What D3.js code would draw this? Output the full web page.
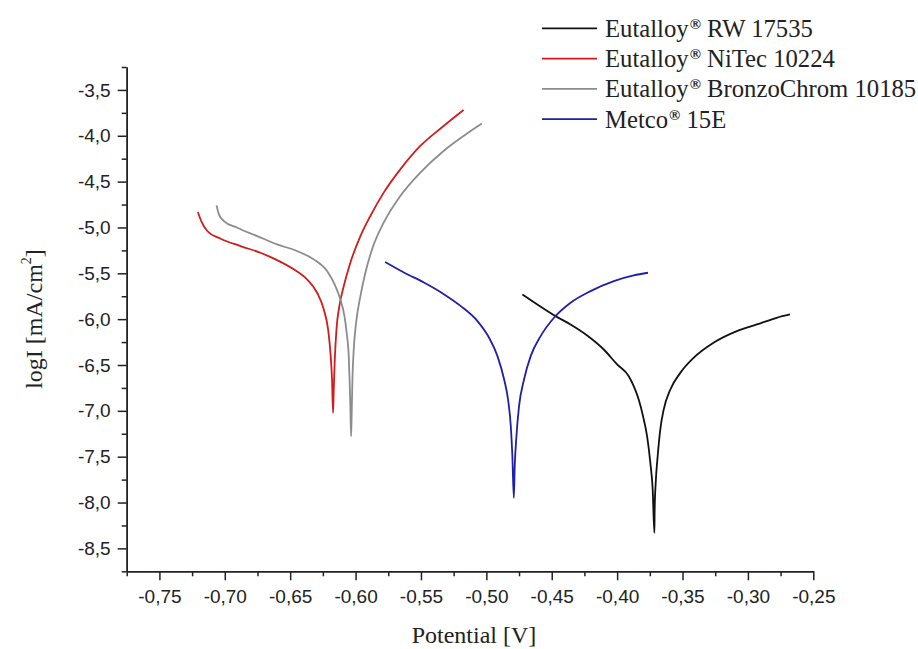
<!DOCTYPE html>
<html>
<head>
<meta charset="utf-8">
<script src="https://cdn.jsdelivr.net/npm/d3@7"></script>
<style>
	body { margin: 0; background: #fff; }
	svg { display: block; }
	.axis text { font-family: "Liberation Sans", Arial, sans-serif; font-size: 19px; fill: #222; }
	.axis path, .axis line { stroke: #222; stroke-width: 1.5; }
	.title { font-family: "Liberation Serif", "Times New Roman", serif; font-size: 24px; fill: #222; }
	.legend-text { font-family: "Liberation Serif", "Times New Roman", serif; font-size: 24.7px; fill: #222; }
</style>
</head>
<body>
<svg id="chart" width="918" height="649"></svg>
<script>
// tick values
let xMajor = [-0.75, -0.70, -0.65, -0.60, -0.55, -0.50, -0.45, -0.40, -0.35, -0.30, -0.25];
let xMinor = [-0.775, -0.725, -0.675, -0.625, -0.575, -0.525, -0.475, -0.425, -0.375, -0.325, -0.275];
let yMajor = [-3.5, -4.0, -4.5, -5.0, -5.5, -6.0, -6.5, -7.0, -7.5, -8.0, -8.5];
let yMinor = [-3.25, -3.75, -4.25, -4.75, -5.25, -5.75, -6.25, -6.75, -7.25, -7.75, -8.25, -8.75];

// [potential V, logI]
let rw17535 = [
	[-0.4724, -5.730], [-0.4610, -5.839], [-0.4470, -5.967], [-0.4356, -6.058], [-0.4229, -6.178],
	[-0.4102, -6.331], [-0.4000, -6.494], [-0.3911, -6.622], [-0.3873, -6.731], [-0.3835, -6.877],
	[-0.3802, -7.058], [-0.3771, -7.277], [-0.3746, -7.568], [-0.3728, -7.859], [-0.3715, -8.332],
	[-0.3713, -8.077], [-0.3705, -7.786], [-0.3690, -7.495], [-0.3670, -7.204], [-0.3644, -6.986],
	[-0.3593, -6.767], [-0.3517, -6.586], [-0.3415, -6.422], [-0.3263, -6.258], [-0.3085, -6.131],
	[-0.2932, -6.058], [-0.2780, -5.985], [-0.2678, -5.949]
];
let nitec10224 = [
	[-0.7206, -4.832], [-0.7180, -4.930], [-0.7134, -5.039], [-0.7032, -5.123], [-0.6880, -5.203],
	[-0.6727, -5.276], [-0.6600, -5.356], [-0.6472, -5.457], [-0.6371, -5.567], [-0.6294, -5.712],
	[-0.6243, -5.894], [-0.6210, -6.112], [-0.6192, -6.367], [-0.6180, -6.658], [-0.6172, -7.022],
	[-0.6167, -6.767], [-0.6159, -6.440], [-0.6146, -6.112], [-0.6124, -5.858], [-0.6090, -5.639],
	[-0.6040, -5.385], [-0.5963, -5.094], [-0.5887, -4.875], [-0.5785, -4.620], [-0.5658, -4.366],
	[-0.5505, -4.111], [-0.5327, -3.893], [-0.5174, -3.718]
];
let bronzo10185 = [
	[-0.7063, -4.759], [-0.7045, -4.857], [-0.7007, -4.930], [-0.6905, -5.003], [-0.6752, -5.094],
	[-0.6600, -5.185], [-0.6447, -5.257], [-0.6320, -5.348], [-0.6218, -5.476], [-0.6154, -5.640],
	[-0.6116, -5.785], [-0.6085, -5.967], [-0.6065, -6.185], [-0.6052, -6.404], [-0.6045, -6.695],
	[-0.6040, -6.949], [-0.6034, -7.277], [-0.6029, -6.986], [-0.6024, -6.658], [-0.6014, -6.331],
	[-0.5996, -6.040], [-0.5963, -5.749], [-0.5925, -5.494], [-0.5874, -5.239], [-0.5785, -4.948],
	[-0.5658, -4.657], [-0.5505, -4.402], [-0.5327, -4.166], [-0.5174, -4.002], [-0.5034, -3.867]
];
let metco15e = [
	[-0.5774, -5.377], [-0.5627, -5.494], [-0.5474, -5.603], [-0.5322, -5.730], [-0.5195, -5.858],
	[-0.5068, -6.021], [-0.4979, -6.203], [-0.4915, -6.403], [-0.4864, -6.658], [-0.4834, -6.877],
	[-0.4813, -7.168], [-0.4801, -7.495], [-0.4790, -7.950], [-0.4783, -7.604], [-0.4770, -7.277],
	[-0.4750, -6.949], [-0.4712, -6.658], [-0.4661, -6.403], [-0.4585, -6.185], [-0.4483, -5.985],
	[-0.4356, -5.821], [-0.4203, -5.694], [-0.4025, -5.585], [-0.3873, -5.523], [-0.3764, -5.494]
];

let names = ['RW 17535', 'NiTec 10224', 'BronzoChrom 10185', '15E'];
let brands = ['Eutalloy', 'Eutalloy', 'Eutalloy', 'Metco'];
let colors = ['#111111', '#d01c1c', '#8c8c8c', '#1f1fa8'];
let seriesData = [rw17535, nitec10224, bronzo10185, metco15e];

let svg = d3.select('#chart');

let xScale = d3.scaleLinear().domain([-0.775, -0.25]).range([126.7, 813.3]);
let yScale = d3.scaleLinear().domain([-8.75, -3.25]).range([571.3, 67]);

let locale = d3.formatLocale({decimal: ',', thousands: '.', grouping: [3], currency: ['', ''], minus: '-'});

// minor ticks
svg.append('g')
	.attr('class', 'axis')
	.attr('transform', 'translate(0,' + yScale.range()[0] + ')')
	.call(d3.axisBottom(xScale).tickValues(xMinor).tickSize(5).tickSizeOuter(0).tickFormat(''));
svg.append('g')
	.attr('class', 'axis')
	.attr('transform', 'translate(' + xScale.range()[0] + ',0)')
	.call(d3.axisLeft(yScale).tickValues(yMinor).tickSize(5).tickSizeOuter(0).tickFormat(''));

// major ticks + labels
svg.append('g')
	.attr('class', 'axis')
	.attr('transform', 'translate(0,' + yScale.range()[0] + ')')
	.call(d3.axisBottom(xScale).tickValues(xMajor).tickSize(9).tickSizeOuter(0).tickPadding(9).tickFormat(locale.format('.2f')));
svg.append('g')
	.attr('class', 'axis')
	.attr('transform', 'translate(' + xScale.range()[0] + ',0)')
	.call(d3.axisLeft(yScale).tickValues(yMajor).tickSize(9).tickSizeOuter(0).tickPadding(7).tickFormat(locale.format('.1f')));

// curves
let lineGen = d3.line()
	.x(d => xScale(d[0]))
	.y(d => yScale(d[1]))
	.curve(d3.curveMonotoneX);

svg.append('g')
	.selectAll('path')
	.data(seriesData)
	.enter()
	.append('path')
	.attr('d', lineGen)
	.attr('fill', 'none')
	.attr('stroke', (d, i) => colors[i])
	.attr('stroke-width', 1.8)
	.attr('stroke-linejoin', 'round');

// axis titles
svg.append('text')
	.attr('class', 'title')
	.attr('x', 474)
	.attr('y', 643)
	.attr('text-anchor', 'middle')
	.text('Potential [V]');

let yTitle = svg.append('text')
	.attr('class', 'title')
	.attr('transform', 'translate(42,319) rotate(-90)')
	.attr('text-anchor', 'middle');
yTitle.append('tspan').text('logI [mA/cm');
yTitle.append('tspan').attr('font-size', 14).attr('dy', -11).text('2');
yTitle.append('tspan').attr('dy', 11).text(']');

// legend
let legend = svg.append('g')
	.selectAll('g')
	.data(names)
	.enter()
	.append('g')
	.attr('transform', (d, i) => 'translate(0,' + (28.3 + i * 30.3) + ')');

legend.append('line')
	.attr('x1', 542)
	.attr('x2', 597)
	.attr('stroke', (d, i) => colors[i])
	.attr('stroke-width', 1.8);

let legendText = legend.append('text')
	.attr('class', 'legend-text')
	.attr('x', 605)
	.attr('y', 8.5);
legendText.append('tspan').text((d, i) => brands[i]);
legendText.append('tspan').attr('font-size', 15).attr('font-weight', 'bold').attr('dx', 1).attr('dy', -8).text('®');
legendText.append('tspan').attr('dy', 8).text(d => ' ' + d);
</script>
</body>
</html>
